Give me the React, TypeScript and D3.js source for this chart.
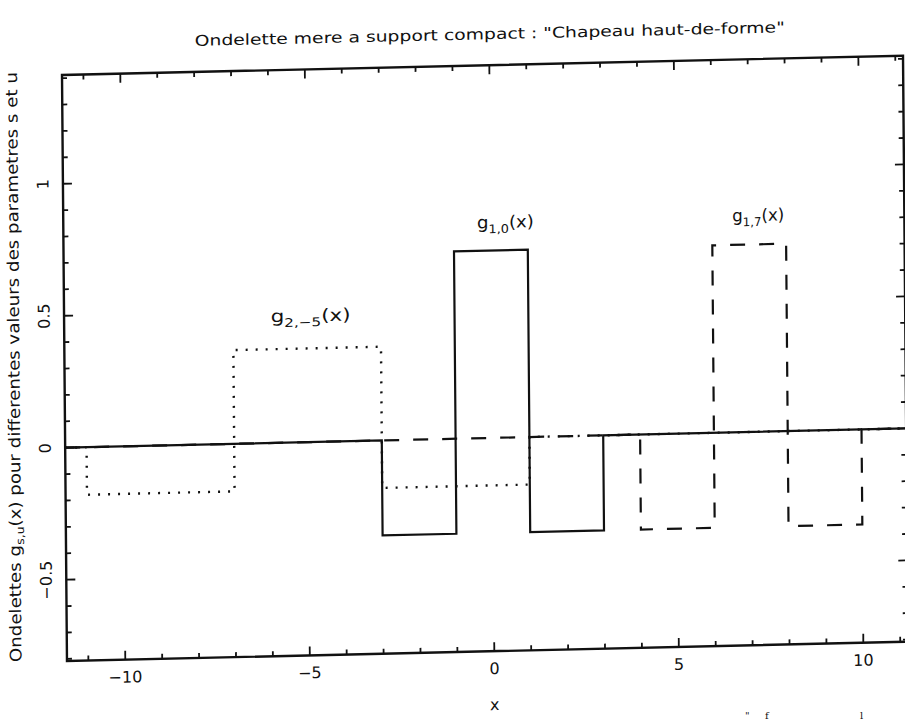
import React from "react";
import * as d3 from "d3";

// ---- data ----
const xDomain = [-11.58, 11.21];
const yDomain = [-0.808, 1.412];
const xMinorTicks = d3.range(-11, 12, 1);
const xMajorTicks = [-10, -5, 0, 5, 10];
const xTickLabels = ["\u221210", "\u22125", "0", "5", "10"];
const yMinorTicks = d3.range(-8, 15, 1).map((v) => v / 10);
const yMajorTicks = [-0.5, 0, 0.5, 1];
const yTickLabels = ["\u22120.5", "0", "0.5", "1"];

// step functions: breakpoints (x) and level after each breakpoint
const g10Breaks = [xDomain[0], -3, -1, 1, 3, xDomain[1]];
const g10Levels = [0, -0.36, 0.71, -0.36, 0, 0];
const g2m5Breaks = [xDomain[0], -11, -7, -3, 1, xDomain[1]];
const g2m5Levels = [0, -0.18, 0.355, -0.18, 0, 0];
const g17Breaks = [xDomain[0], 4, 6, 8, 10, xDomain[1]];
const g17Levels = [0, -0.36, 0.71, -0.36, 0, 0];

const titleText = 'Ondelette mere a support compact : "Chapeau haut-de-forme"';

export default function App() {
  const W = 905;
  const H = 720;
  const left = 62, right = 903, top = 75, bottom = 661;
  const x = d3.scaleLinear().domain(xDomain).range([left, right]);
  const y = d3.scaleLinear().domain(yDomain).range([bottom, top]);
  const line = d3
    .line<[number, number]>()
    .x((d) => x(d[0]))
    .y((d) => y(d[1]))
    .curve(d3.curveStepAfter);
  const pts = (b: number[], l: number[]) => b.map((v, i) => [v, l[i]] as [number, number]);

  const font = "'DejaVu Sans', 'Liberation Sans', sans-serif";
  const ink = "#111";
  // scanned page: slight shear/rotation
  const sh = 0.023, sv = 0.0085;
  const tf = `matrix(1, ${-sh}, ${sv}, 1, ${-sv * top}, ${sh * left})`;

  const isMajorX = (v: number) => xMajorTicks.includes(v);
  const isMajorY = (v: number) => yMajorTicks.some((m) => Math.abs(m - v) < 1e-9);

  return (
    <div style={{ position: "absolute", left: 0, top: 0 }}>
      <svg width={W} height={H} style={{ display: "block", background: "#fff" }}>
        <g transform={tf}>
          <text
            x={490}
            y={49}
            textAnchor="middle"
            fontFamily={font}
            fontSize={15}
            textLength={590}
            lengthAdjust="spacingAndGlyphs"
            fill={ink}
          >
            {titleText}
          </text>

          {/* frame */}
          <rect x={left} y={top} width={right - left} height={bottom - top} fill="none" stroke={ink} strokeWidth={2.4} />

          {/* x ticks bottom & top */}
          {xMinorTicks.map((v) => {
            const len = isMajorX(v) ? 9 : 5;
            return (
              <g key={"xt" + v}>
                <line x1={x(v)} x2={x(v)} y1={bottom} y2={bottom - len} stroke={ink} strokeWidth={1.8} />
                <line x1={x(v)} x2={x(v)} y1={top} y2={top + len} stroke={ink} strokeWidth={1.8} />
              </g>
            );
          })}
          {/* y ticks left & right */}
          {yMinorTicks.map((v) => {
            const len = isMajorY(v) ? 9 : 5;
            return (
              <g key={"yt" + v}>
                <line x1={left} x2={left + len} y1={y(v)} y2={y(v)} stroke={ink} strokeWidth={1.8} />
                <line x1={right} x2={right - len} y1={y(v)} y2={y(v)} stroke={ink} strokeWidth={1.8} />
              </g>
            );
          })}

          {/* tick labels */}
          {xMajorTicks.map((v, i) => (
            <text
              key={"xl" + v}
              x={x(v)}
              y={684}
              textAnchor="middle"
              fontFamily={font}
              fontSize={16}
              fill={ink}
            >
              {xTickLabels[i]}
            </text>
          ))}
          {yMajorTicks.map((v, i) => (
            <text
              key={"yl" + v}
              transform={`translate(42, ${y(v)}) rotate(-90)`}
              textAnchor="middle"
              dominantBaseline="central"
              fontFamily={font}
              fontSize={16}
              fill={ink}
            >
              {yTickLabels[i]}
            </text>
          ))}

          {/* axis titles */}
          <text x={x(0)} y={720} textAnchor="middle" fontFamily={font} fontSize={16} fill={ink}>
            x
          </text>
          <text
            transform={`translate(11, 366) rotate(-90)`}
            textAnchor="middle"
            dominantBaseline="central"
            fontFamily={font}
            fontSize={16}
            fill={ink}
            textLength={590}
            lengthAdjust="spacingAndGlyphs"
          >
            Ondelettes g<tspan dy={5} fontSize={11}>s,u</tspan>
            <tspan dy={-5}>(x) pour differentes valeurs des parametres s et u</tspan>
          </text>

          {/* series */}
          <path d={line(pts(g2m5Breaks, g2m5Levels)) || ""} fill="none" stroke={ink} strokeWidth={2.4} strokeDasharray="2 8" />
          <path d={line(pts(g17Breaks, g17Levels)) || ""} fill="none" stroke={ink} strokeWidth={2.2} strokeDasharray="15 14" />
          <path d={line(pts(g10Breaks, g10Levels)) || ""} fill="none" stroke={ink} strokeWidth={2.2} />

          {/* curve labels */}
          <text x={x(0.4)} y={238} textAnchor="middle" fontFamily={font} fontSize={17} fill={ink} textLength={57} lengthAdjust="spacingAndGlyphs">
            g<tspan dy={5} fontSize={12}>1,0</tspan>
            <tspan dy={-5}>(x)</tspan>
          </text>
          <text x={x(7.25)} y={237} textAnchor="middle" fontFamily={font} fontSize={17} fill={ink} textLength={52} lengthAdjust="spacingAndGlyphs">
            g<tspan dy={5} fontSize={12}>1,7</tspan>
            <tspan dy={-5}>(x)</tspan>
          </text>
          <text x={x(-4.9)} y={327} textAnchor="middle" fontFamily={font} fontSize={17} fill={ink} textLength={80} lengthAdjust="spacingAndGlyphs">
            g<tspan dy={5} fontSize={12}>2,−5</tspan>
            <tspan dy={-5}>(x)</tspan>
          </text>
        </g>

        {/* fragments of the next line of the scanned page */}
        <text x={745} y={719} fontFamily="'DejaVu Serif', serif" fontSize={10} fill={ink}>"</text>
        <text x={765} y={719} fontFamily="'DejaVu Serif', serif" fontSize={10} fill={ink}>f</text>
        <text x={860} y={719} fontFamily="'DejaVu Serif', serif" fontSize={10} fill={ink}>l</text>
      </svg>
    </div>
  );
}
